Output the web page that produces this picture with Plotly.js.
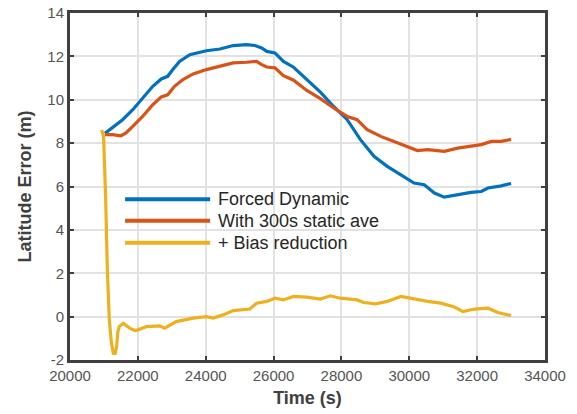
<!DOCTYPE html>
<html>
<head>
<meta charset="utf-8">
<script src="https://cdn.plot.ly/plotly-3.0.1.min.js"></script>
<style>html,body{margin:0;padding:0;background:#fff;}#chart{width:577px;height:414px;}</style>
</head>
<body>
<div id="chart"></div>
<script>
// Forced Dynamic
const blueT = [21030,21250,21550,21850,22140,22440,22690,22880,23030,23230,23530,24020,24420,24810,25200,25450,25650,25800,26040,26290,26590,26980,27380,27770,28170,28560,28960,29350,29750,30140,30440,30740,31030,31430,31820,32120,32320,32710,33000];
const blueV = [8.45,8.70,9.08,9.54,10.08,10.62,10.96,11.08,11.39,11.77,12.08,12.26,12.34,12.50,12.54,12.50,12.39,12.23,12.16,11.77,11.50,10.95,10.35,9.69,9.08,8.16,7.39,6.93,6.54,6.16,6.08,5.70,5.51,5.62,5.73,5.77,5.93,6.03,6.14];
// With 300s static ave
const orangeT = [21030,21250,21500,21650,21850,22140,22440,22690,22880,23080,23330,23630,24020,24420,24810,25200,25500,25650,25800,26040,26290,26590,26980,27380,27770,28170,28460,28760,29160,29550,29950,30240,30540,31030,31430,31820,32120,32420,32710,33000];
const orangeV = [8.39,8.39,8.34,8.47,8.77,9.23,9.77,10.13,10.23,10.62,10.93,11.19,11.39,11.54,11.70,11.73,11.77,11.62,11.51,11.47,11.11,10.90,10.43,10.05,9.62,9.23,9.08,8.62,8.31,8.08,7.85,7.66,7.70,7.62,7.77,7.88,7.93,8.08,8.08,8.17];
// + Bias reduction
const yellowT = [20934,20990,21050,21100,21160,21220,21276,21330,21375,21410,21452,21570,21770,21915,22000,22260,22650,22790,23130,23630,24020,24220,24510,24810,25300,25500,25800,26040,26290,26590,26980,27380,27670,27970,28460,28660,29010,29350,29750,30140,30540,30930,31330,31580,31920,32320,32610,33000];
const yellowV = [8.61,8.30,5.50,2.20,-0.20,-1.20,-1.69,-1.70,-1.35,-0.70,-0.46,-0.31,-0.54,-0.64,-0.61,-0.46,-0.43,-0.53,-0.23,-0.07,0.00,-0.07,0.08,0.28,0.35,0.62,0.70,0.85,0.77,0.93,0.90,0.81,0.96,0.85,0.77,0.65,0.59,0.70,0.93,0.81,0.70,0.62,0.44,0.23,0.35,0.39,0.19,0.05];

const seriesNames = ["Forced Dynamic", "With 300s static ave", "+ Bias reduction"];
const colors = ["#0072BD", "#D95319", "#EDB120"];
const xTicks = [20000,22000,24000,26000,28000,30000,32000,34000];
const yTicks = [-2,0,2,4,6,8,10,12,14];

const series = [[blueT, blueV], [orangeT, orangeV], [yellowT, yellowV]];
const traces = series.map((s, i) => ({
  x: s[0], y: s[1], type: 'scatter', mode: 'lines', name: seriesNames[i],
  line: {color: colors[i], width: 3.2}, showlegend: false
}));

// custom legend (long line samples, as in the reference)
const legY = [0.463, 0.401, 0.338];
const shapes = legY.map((y, i) => ({
  type: 'line', xref: 'paper', yref: 'paper', x0: 0.116, x1: 0.295, y0: y, y1: y,
  line: {color: colors[i], width: 4}
}));
const annotations = legY.map((y, i) => ({
  xref: 'paper', yref: 'paper', x: 0.307, y: y, xanchor: 'left', yanchor: 'middle',
  text: seriesNames[i], showarrow: false,
  font: {family: 'Liberation Sans, Arial, sans-serif', size: 18, color: '#262626'}
}));

const axisCommon = {
  showline: true, linecolor: '#404040', linewidth: 3, mirror: 'ticks',
  ticks: 'inside', ticklen: 4, tickwidth: 2, tickcolor: '#404040',
  showgrid: true, gridcolor: '#e2e2e2', gridwidth: 2, zeroline: false,
  tickfont: {family: 'Liberation Sans, Arial, sans-serif', size: 15, color: '#555555'}
};

const layout = {
  width: 577, height: 414,
  margin: {l: 70, r: 32, t: 13, b: 54},
  paper_bgcolor: '#ffffff', plot_bgcolor: '#ffffff',
  xaxis: Object.assign({}, axisCommon, {
    range: [20000, 34000], tickvals: xTicks, ticktext: xTicks.map(String),
    title: {text: 'Time (s)', standoff: 9, font: {family: 'Liberation Sans, Arial, sans-serif', size: 18, color: '#404040', weight: 'bold'}}
  }),
  yaxis: Object.assign({}, axisCommon, {
    range: [-2, 14], tickvals: yTicks, ticktext: yTicks.map(String),
    title: {text: 'Latitude Error (m)', standoff: 12, font: {family: 'Liberation Sans, Arial, sans-serif', size: 18, color: '#404040', weight: 'bold'}}
  }),
  shapes: shapes,
  annotations: annotations
};

Plotly.newPlot('chart', traces, layout, {displayModeBar: false, staticPlot: true});
</script>
</body>
</html>
